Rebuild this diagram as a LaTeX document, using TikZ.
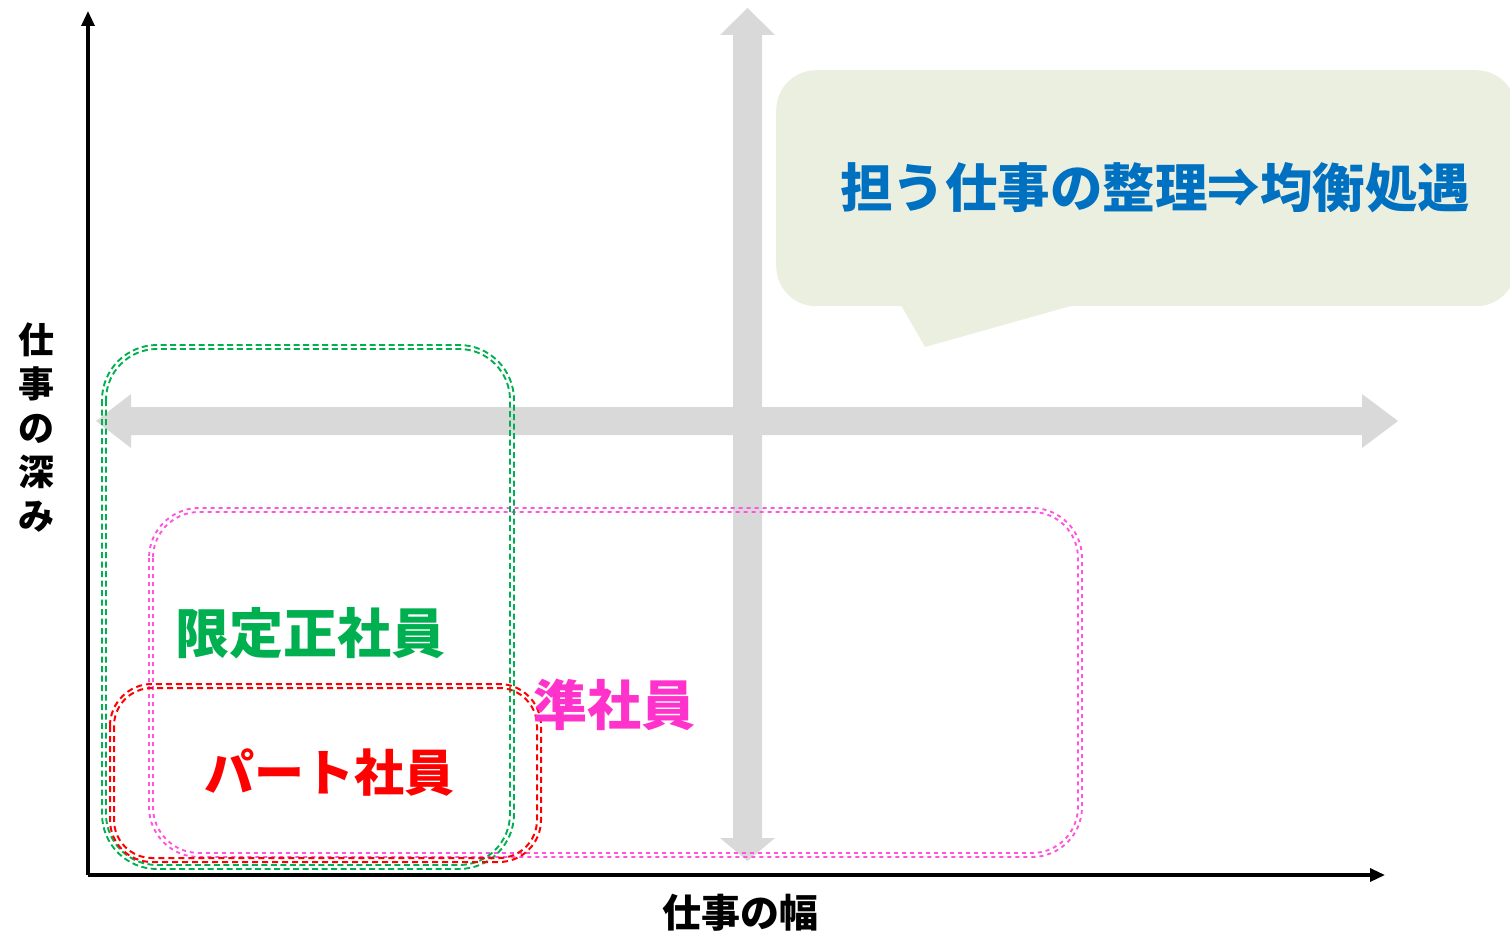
\documentclass[tikz,border=0pt]{standalone}
\usepackage{fontspec}
\newfontfamily\jp{Noto Sans CJK JP}
\usetikzlibrary{arrows.meta}
\definecolor{axgray}{HTML}{D9D9D9}
\definecolor{grn}{HTML}{00B050}
\definecolor{mag}{HTML}{FF33CC}
\definecolor{magline}{HTML}{FF55DD}
\definecolor{rd}{HTML}{FF0000}
\definecolor{blu}{HTML}{0070C0}
\definecolor{callfill}{HTML}{EBEFDF}
\begin{document}
\begin{tikzpicture}[x=1pt,y=-1pt,
  axis/.style={line width=3.2pt,-{Triangle[length=15pt,width=13pt]}},
  grayarrow/.style={fill=axgray,draw=none},
  lbl/.style={inner sep=0pt,font=\jp\bfseries\fontsize{#1}{#1}\selectfont},
  gbox/.style={draw=grn,line width=1.9pt,dash pattern=on 6pt off 3.5pt},
  mbox/.style={draw=magline,line width=1.9pt,dash pattern=on 4pt off 4pt},
  rbox/.style={draw=rd,line width=2pt,dash pattern=on 6pt off 4pt}]
\useasboundingbox (0,0) rectangle (1510,936);

% gray cross arrows
\fill[grayarrow] (747.5,8) -- (775,35) -- (762,35) -- (762,838) -- (775,838)
  -- (747.5,861) -- (720,838) -- (733,838) -- (733,35) -- (720,35) -- cycle;
\fill[grayarrow] (96,421) -- (131,394) -- (131,407) -- (1362,407) -- (1362,394)
  -- (1398,421) -- (1362,448) -- (1362,435) -- (131,435) -- (131,448) -- cycle;

% axes
\coordinate (o) at (88,875);
\coordinate (ytop) at (88,11);
\coordinate (xend) at (1385,875);
\draw[axis] (o) -- (ytop);
\draw[axis] (o) -- (xend);

% callout
\node[fill=callfill,rounded corners=40pt,minimum width=740pt,minimum height=236pt,
  inner sep=0pt,anchor=north west] (call) at (776,70) {};
\coordinate (t1) at (898,300);
\coordinate (tip) at (925,347);
\coordinate (t2) at (1092,300);
\fill[callfill] (t1) -- (tip) -- (t2) -- cycle;
\node[lbl=52.5,text=blu] (calltext) at (1155,188) {担う仕事の整理⇒均衡処遇};

% magenta box (double dotted)
\draw[mbox,rounded corners=50pt] (149,508) rectangle (1082,857);
\draw[mbox,rounded corners=46pt] (153,512) rectangle (1078,853);

% green box (double dashed)
\draw[gbox,rounded corners=55pt] (102,345) rectangle (514,869);
\draw[gbox,rounded corners=51pt] (106,349) rectangle (510,865);

% red box (double dashed)
\draw[rbox,rounded corners=42pt] (110,684) rectangle (541,862);
\draw[rbox,rounded corners=38pt] (114,688) rectangle (537,858);

% labels
\node[lbl=54,text=grn] (gen) at (310,633) {限定正社員};
\node[lbl=54,text=mag] (jun) at (614,705) {準社員};
\node[lbl=50,text=rd] (part) at (329,773) {パート社員};
\node[lbl=39,text=black] (xlab) at (740,913) {仕事の幅};
\node[inner sep=0pt,align=center,font=\jp\bfseries\fontsize{36}{44}\selectfont] (ylab) at (36,428)
  {仕\\事\\の\\深\\み};
\end{tikzpicture}
\end{document}
